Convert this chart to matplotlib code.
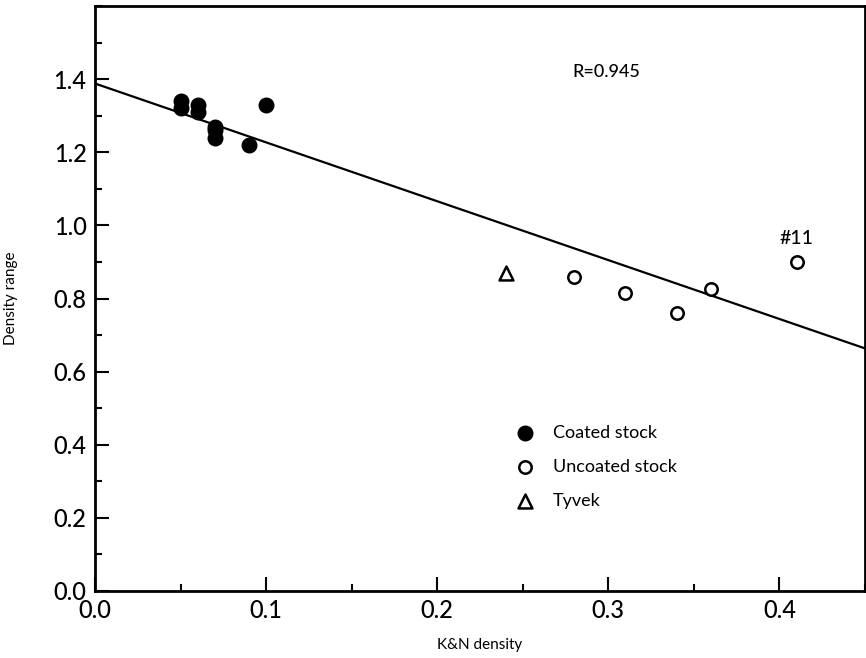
import matplotlib
matplotlib.use("Agg")
import matplotlib.pyplot as plt
import numpy as np
from matplotlib.ticker import MultipleLocator

plt.rcParams['font.family'] = ['Lato', 'DejaVu Sans']

# Data
coated_x = [0.05, 0.05, 0.06, 0.06, 0.07, 0.07, 0.07, 0.09, 0.10]
coated_y = [1.34, 1.32, 1.33, 1.31, 1.27, 1.26, 1.24, 1.22, 1.33]
uncoated_x = [0.28, 0.31, 0.34, 0.36, 0.41]
uncoated_y = [0.86, 0.815, 0.76, 0.826, 0.90]
tyvek_x = [0.24]
tyvek_y = [0.87]
fit_intercept = 1.388
fit_slope = -1.61
r_text = "R=0.945"
annot_label = "#11"

fig = plt.figure(figsize=(8.66, 6.58), dpi=100)
ax = fig.add_axes([95/866, 67/658, 770/866, 585/658])

xl = np.array([0.0, 0.45])
ax.plot(xl, fit_intercept + fit_slope * xl, color='black', lw=1.6, zorder=2)

ax.scatter(coated_x, coated_y, s=110, color='black', marker='o', zorder=3, label='Coated stock')
ax.scatter(uncoated_x, uncoated_y, s=80, facecolor='white', edgecolor='black', linewidths=1.8,
           marker='o', zorder=3, label='Uncoated stock')
ax.scatter(tyvek_x, tyvek_y, s=100, facecolor='white', edgecolor='black', linewidths=1.8,
           marker='^', zorder=3, label='Tyvek')

ax.text(0.299, 1.42, r_text, fontsize=13, ha='center', va='center', weight='medium')
ax.text(uncoated_x[-1], 0.965, annot_label, fontsize=14, ha='center', va='center', weight='medium')

ax.set_xlim(0, 0.45)
ax.set_ylim(0, 1.6)
ax.xaxis.set_major_locator(MultipleLocator(0.1))
ax.xaxis.set_minor_locator(MultipleLocator(0.05))
ax.yaxis.set_major_locator(MultipleLocator(0.2))
ax.yaxis.set_minor_locator(MultipleLocator(0.1))
ax.set_xticklabels([f"{v:.1f}" for v in ax.get_xticks()])
ax.set_yticks(np.arange(0, 1.41, 0.2))
ax.set_yticklabels([f"{v:.1f}" for v in np.arange(0, 1.41, 0.2)])
ax.tick_params(which='major', direction='in', length=10, width=1.5, labelsize=17, pad=6)
ax.tick_params(which='minor', direction='in', length=5, width=1.5)
for lab in ax.get_xticklabels() + ax.get_yticklabels():
    lab.set_fontweight('medium')
for s in ax.spines.values():
    s.set_linewidth(2)

ax.set_xlabel("K&N density", fontsize=11, labelpad=11)
ax.set_ylabel("Density range", fontsize=11, labelpad=26)

leg = ax.legend(loc='upper left', bbox_to_anchor=(0.525, 0.296), frameon=False, fontsize=13,
                labelspacing=1.0, handletextpad=0.55, scatterpoints=1, borderaxespad=0)

fig.savefig("out.png", dpi=100)
